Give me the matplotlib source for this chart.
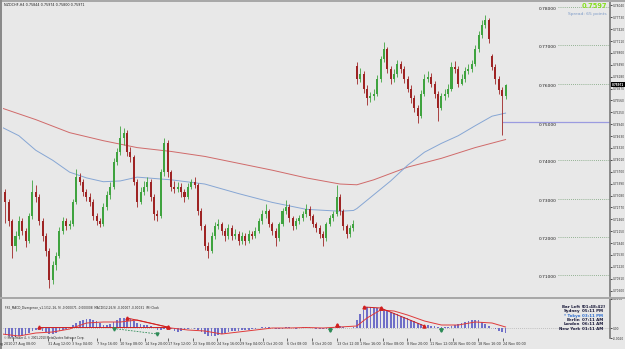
import matplotlib
matplotlib.use("Agg")
import matplotlib.pyplot as plt
import matplotlib.transforms as mtransforms
from matplotlib.patches import Rectangle
import numpy as np

# ---------------- data ----------------
opens = [0.7340, 0.7318, 0.7292, 0.7241, 0.7177, 0.7203, 0.7241, 0.7215, 0.7190, 0.7254,
         0.7318, 0.7305, 0.7241, 0.7203, 0.7164, 0.7087, 0.7126, 0.7151, 0.7215, 0.7241,
         0.7228, 0.7233, 0.7292, 0.7356, 0.7344, 0.7318, 0.7305, 0.7292, 0.7254, 0.7241,
         0.7233, 0.7279, 0.7310, 0.7331, 0.7395, 0.7421, 0.7459, 0.7472, 0.7421, 0.7408,
         0.7344, 0.7292, 0.7318, 0.7331, 0.7344, 0.7305, 0.7259, 0.7254, 0.7369, 0.7446,
         0.7369, 0.7331, 0.7326, 0.7331, 0.7318, 0.7305, 0.7331, 0.7344, 0.7336, 0.7267,
         0.7228, 0.7177, 0.7164, 0.7203, 0.7228, 0.7233, 0.7215, 0.7203, 0.7223, 0.7203,
         0.7208, 0.7190, 0.7203, 0.7190, 0.7208, 0.7203, 0.7215, 0.7241, 0.7259, 0.7267,
         0.7233, 0.7215, 0.7197, 0.7233, 0.7267, 0.7279, 0.7249, 0.7228, 0.7241, 0.7249,
         0.7259, 0.7274, 0.7254, 0.7233, 0.7223, 0.7208, 0.7197, 0.7233, 0.7249, 0.7259,
         0.7305, 0.7267, 0.7228, 0.7208, 0.7223, 0.7646, 0.7613, 0.7626, 0.7587, 0.7562,
         0.7567, 0.7574, 0.7613, 0.7664, 0.7690, 0.7638, 0.7613, 0.7626, 0.7651, 0.7638,
         0.7613, 0.7587, 0.7562, 0.7536, 0.7515, 0.7574, 0.7613, 0.7618, 0.7600, 0.7574,
         0.7536, 0.7567, 0.7574, 0.7587, 0.7644, 0.7638, 0.7600, 0.7613, 0.7633, 0.7638,
         0.7651, 0.7690, 0.7728, 0.7754, 0.7767, 0.7672, 0.7644, 0.7613, 0.7582, 0.7567]
closes = [0.7318, 0.7292, 0.7241, 0.7177, 0.7203, 0.7241, 0.7215, 0.7190, 0.7254, 0.7318,
          0.7305, 0.7241, 0.7203, 0.7164, 0.7087, 0.7126, 0.7151, 0.7215, 0.7241, 0.7228,
          0.7233, 0.7292, 0.7356, 0.7344, 0.7318, 0.7305, 0.7292, 0.7254, 0.7241, 0.7233,
          0.7279, 0.7310, 0.7331, 0.7395, 0.7421, 0.7459, 0.7472, 0.7421, 0.7408, 0.7344,
          0.7292, 0.7318, 0.7331, 0.7344, 0.7305, 0.7259, 0.7254, 0.7369, 0.7446, 0.7369,
          0.7331, 0.7326, 0.7331, 0.7318, 0.7305, 0.7331, 0.7344, 0.7336, 0.7267, 0.7228,
          0.7177, 0.7164, 0.7203, 0.7228, 0.7233, 0.7215, 0.7203, 0.7223, 0.7203, 0.7208,
          0.7190, 0.7203, 0.7190, 0.7208, 0.7203, 0.7215, 0.7241, 0.7259, 0.7267, 0.7233,
          0.7215, 0.7197, 0.7233, 0.7267, 0.7279, 0.7249, 0.7228, 0.7241, 0.7249, 0.7259,
          0.7274, 0.7254, 0.7233, 0.7223, 0.7208, 0.7197, 0.7233, 0.7249, 0.7259, 0.7305,
          0.7267, 0.7228, 0.7208, 0.7223, 0.7233, 0.7613, 0.7626, 0.7587, 0.7562, 0.7567,
          0.7574, 0.7613, 0.7664, 0.7690, 0.7638, 0.7613, 0.7626, 0.7651, 0.7638, 0.7613,
          0.7587, 0.7562, 0.7536, 0.7515, 0.7574, 0.7613, 0.7618, 0.7600, 0.7574, 0.7536,
          0.7567, 0.7574, 0.7587, 0.7644, 0.7638, 0.7600, 0.7613, 0.7633, 0.7638, 0.7651,
          0.7690, 0.7728, 0.7754, 0.7767, 0.7715, 0.7644, 0.7613, 0.7582, 0.7567, 0.7597]
highs = [0.7352, 0.7325, 0.7300, 0.7248, 0.7215, 0.7254, 0.7250, 0.7222, 0.7262, 0.7349,
         0.7335, 0.7312, 0.7250, 0.7210, 0.7170, 0.7138, 0.7160, 0.7225, 0.7252, 0.7250,
         0.7245, 0.7300, 0.7377, 0.7368, 0.7350, 0.7325, 0.7315, 0.7298, 0.7262, 0.7250,
         0.7288, 0.7320, 0.7342, 0.7405, 0.7433, 0.7490, 0.7485, 0.7478, 0.7435, 0.7415,
         0.7350, 0.7330, 0.7345, 0.7356, 0.7350, 0.7312, 0.7270, 0.7378, 0.7459, 0.7452,
         0.7375, 0.7345, 0.7342, 0.7340, 0.7325, 0.7340, 0.7352, 0.7356, 0.7340, 0.7275,
         0.7235, 0.7188, 0.7212, 0.7238, 0.7248, 0.7240, 0.7222, 0.7235, 0.7230, 0.7220,
         0.7215, 0.7212, 0.7210, 0.7218, 0.7215, 0.7225, 0.7250, 0.7270, 0.7285, 0.7272,
         0.7240, 0.7222, 0.7240, 0.7275, 0.7297, 0.7285, 0.7255, 0.7250, 0.7258, 0.7268,
         0.7285, 0.7280, 0.7260, 0.7240, 0.7230, 0.7215, 0.7240, 0.7258, 0.7268, 0.7336,
         0.7312, 0.7272, 0.7235, 0.7232, 0.7245, 0.7655, 0.7640, 0.7632, 0.7595, 0.7578,
         0.7585, 0.7622, 0.7672, 0.7708, 0.7695, 0.7645, 0.7638, 0.7662, 0.7660, 0.7645,
         0.7620, 0.7595, 0.7570, 0.7545, 0.7582, 0.7625, 0.7632, 0.7628, 0.7608, 0.7580,
         0.7575, 0.7585, 0.7598, 0.7655, 0.7660, 0.7645, 0.7625, 0.7642, 0.7650, 0.7662,
         0.7700, 0.7738, 0.7765, 0.7779, 0.7772, 0.7678, 0.7650, 0.7620, 0.7590, 0.7600]
lows = [0.7305, 0.7236, 0.7228, 0.7144, 0.7164, 0.7195, 0.7205, 0.7175, 0.7185, 0.7248,
        0.7290, 0.7230, 0.7190, 0.7150, 0.7067, 0.7078, 0.7115, 0.7145, 0.7208, 0.7218,
        0.7220, 0.7228, 0.7285, 0.7335, 0.7308, 0.7295, 0.7280, 0.7245, 0.7230, 0.7225,
        0.7228, 0.7270, 0.7300, 0.7325, 0.7388, 0.7415, 0.7440, 0.7410, 0.7395, 0.7335,
        0.7279, 0.7285, 0.7310, 0.7320, 0.7295, 0.7245, 0.7241, 0.7250, 0.7360, 0.7356,
        0.7320, 0.7315, 0.7318, 0.7305, 0.7292, 0.7298, 0.7325, 0.7328, 0.7258, 0.7218,
        0.7165, 0.7146, 0.7158, 0.7195, 0.7220, 0.7205, 0.7190, 0.7195, 0.7192, 0.7195,
        0.7178, 0.7182, 0.7180, 0.7185, 0.7195, 0.7198, 0.7210, 0.7235, 0.7250, 0.7225,
        0.7205, 0.7177, 0.7190, 0.7228, 0.7260, 0.7240, 0.7218, 0.7220, 0.7235, 0.7242,
        0.7252, 0.7245, 0.7225, 0.7212, 0.7198, 0.7177, 0.7190, 0.7228, 0.7242, 0.7255,
        0.7258, 0.7218, 0.7198, 0.7200, 0.7215, 0.7600, 0.7605, 0.7575, 0.7544, 0.7552,
        0.7558, 0.7568, 0.7605, 0.7655, 0.7628, 0.7600, 0.7605, 0.7618, 0.7628, 0.7602,
        0.7578, 0.7550, 0.7525, 0.7497, 0.7510, 0.7568, 0.7605, 0.7590, 0.7562, 0.7503,
        0.7530, 0.7558, 0.7565, 0.7580, 0.7628, 0.7590, 0.7595, 0.7605, 0.7625, 0.7630,
        0.7645, 0.7682, 0.7720, 0.7745, 0.7705, 0.7635, 0.7600, 0.7572, 0.7467, 0.7560]

ma_red_bars = [0, 10, 20, 30, 40, 50, 60, 70, 80, 90, 100, 105, 110, 120, 130, 140, 149]
ma_red = [0.7536, 0.7506, 0.7472, 0.7451, 0.7433, 0.7423, 0.7410, 0.7392, 0.7374,
          0.7354, 0.7338, 0.7336, 0.7349, 0.7382, 0.7405, 0.7433, 0.7454]
ma_blue_bars = [0, 5, 10, 15, 20, 25, 30, 35, 40, 50, 60, 70, 80, 90, 100, 104, 105,
                110, 115, 120, 125, 130, 135, 140, 145, 149]
ma_blue = [0.7486, 0.7464, 0.7426, 0.7400, 0.7369, 0.7354, 0.7344, 0.7346, 0.7356,
           0.7349, 0.7338, 0.7313, 0.7290, 0.7272, 0.7267, 0.7269, 0.7274, 0.7310,
           0.7346, 0.7387, 0.7421, 0.7444, 0.7464, 0.7490, 0.7515, 0.7523]

level_prices = [0.78, 0.77, 0.76, 0.74, 0.73, 0.72, 0.71]
level_labels = ["0.78000", "0.77000", "0.76000", "0.74000", "0.73000", "0.72000", "0.71000"]
hline_price = 0.75
hline_label = "0.75000"
bid_price = 0.7597
bid_label = "0.75971"

price_ticks = [0.78040, 0.77730, 0.77420, 0.77110, 0.76800, 0.76490, 0.76180, 0.75870,
               0.75560, 0.75250, 0.74940, 0.74630, 0.74320, 0.74010, 0.73700, 0.73390,
               0.73080, 0.72770, 0.72460, 0.72150, 0.71840, 0.71530, 0.71220, 0.70910,
               0.70600]

# MACD histogram (x 1e-4)
macd_hist = [-12, -14, -16, -18, -18, -16, -16, -14, -10, -6,
             -4, -4, -6, -8, -12, -12, -10, -6, -4, -2,
             2, 6, 10, 14, 16, 18, 18, 16, 14, 10,
             6, 6, 8, 12, 16, 20, 20, 20, 18, 14,
             10, 8, 6, 6, 4, 1, -4, -4, -1, 2,
             -2, -6, -8, -6, -4, -2, 1, -1, -4, -8,
             -12, -16, -16, -16, -14, -12, -10, -8, -6, -6,
             -6, -4, -4, -4, -2, -2, 1, 2, 2, 2,
             1, -2, -2, -1, 2, 2, 1, -1, 1, 2,
             2, 2, 1, -1, -2, -2, -2, -1, 2, 4,
             4, 2, 1, 1, 2, 16, 28, 36, 42, 42,
             40, 40, 40, 38, 36, 32, 30, 28, 24, 22,
             20, 16, 14, 10, 8, 6, 6, 4, 4, 2,
             2, 2, 2, 4, 6, 8, 10, 12, 14, 16,
             16, 16, 12, 8, 4, 1, -2, -6, -8, -10]
signal_bars = [0, 5, 10, 15, 20, 25, 30, 35, 40, 45, 50, 55, 60, 65, 70, 75, 80, 85, 90,
               95, 100, 105, 108, 112, 116, 120, 125, 130, 135, 140, 145, 149]
signal_vals = [-12, -16, -10, -8, -2, 10, 12, 12, 16, 8, 0, -4, -6, -12, -8, -4, 0, 0, 1,
               0, 2, 4, 20, 36, 34, 26, 14, 6, 6, 12, 10, 2]
red_divergences = [((11, 2), (49, 2)), ((37, 20), (49, 2)),
                   ((107, 42), (112, 40)), ((112, 40), (125, 4)), ((99, 6), (99, 6))]
green_divergences = [((33, -1), (46, -12)), ((97, -4), (97, -4)), ((130, -4), (130, -4))]

x_tick_bars = [3.3, 13.6, 20.7, 28.1, 34.9, 42.3, 49.1, 56.5, 63.6, 70.4, 77.2, 84.3,
               91.7, 99.1, 105.9, 112.7, 119.8, 126.6, 133.4, 140.8, 148.2]
x_tick_labels = ["27 Aug 08:00", "31 Aug 12:00", "3 Sep 04:00", "7 Sep 16:00",
                 "10 Sep 08:00", "14 Sep 20:00", "17 Sep 12:00", "22 Sep 00:00",
                 "24 Sep 16:00", "29 Sep 04:00", "1 Oct 20:00", "6 Oct 08:00",
                 "8 Oct 20:00", "13 Oct 12:00", "1 Nov 16:00", "4 Nov 08:00",
                 "8 Nov 20:00", "11 Nov 12:00", "16 Nov 00:00", "18 Nov 16:00",
                 "24 Nov 00:00"]
first_label = "24 Aug 2010"

clock_names = ["Bar Left", "Sydney", "* Tokyo", "Berlin", "London", "New York"]
clock_values = ["[01:48:42]", "05:11 PM", "03:11 PM", "07:11 AM", "06:11 AM", "01:11 AM"]

# ---------------- figure ----------------
W, H = 625, 349
BG = "#E8E8E8"
BULL = "#3FA33F"
BEAR = "#9E2424"
plt.rcParams["font.family"] = ["DejaVu Sans"]

fig = plt.figure(figsize=(W / 100, H / 100), dpi=100, facecolor=BG)


def fx(px):
    return px / W


def fy(py):
    return 1 - py / H


ax = fig.add_axes([fx(3), fy(296), fx(610) - fx(3), fy(2) - fy(296)])
sub = fig.add_axes([fx(3), fy(338), fx(610) - fx(3), fy(299) - fy(338)])
for a in (ax, sub):
    a.set_facecolor(BG)
    a.set_xlim(0.3, 179.9)
    for s in ("top", "left", "bottom"):
        a.spines[s].set_visible(False)
    a.spines["right"].set_color("#7A7A7A")
    a.spines["right"].set_linewidth(1.2)
    a.yaxis.tick_right()

ax.set_ylim(0.70459, 0.78128)
ax.set_xticks([])

o = np.array(opens); c = np.array(closes); h = np.array(highs); l = np.array(lows)
xb = np.arange(len(c))
cols = np.where(c >= o, BULL, BEAR)
ax.vlines(xb, l, h, colors=cols, lw=0.6, zorder=3)
body_lo = np.minimum(o, c)
body_h = np.maximum(np.abs(c - o), 0.00005)
ax.bar(xb, body_h, bottom=body_lo, width=0.6, color=cols, lw=0, zorder=4)

ax.plot(ma_red_bars, ma_red, color="#D06A6A", lw=0.7, zorder=2)
ax.plot(ma_blue_bars, ma_blue, color="#86A6D4", lw=0.7, zorder=2)

trans = mtransforms.blended_transform_factory(ax.transAxes, ax.transData)
x_line0 = (558 - 3) / 607
x_lab = (539 - 3) / 607
for p, lab in zip(level_prices, level_labels):
    ax.plot([x_line0, 1], [p, p], transform=trans, ls=(0, (1, 1.5)), color="#76A076",
            lw=0.6, zorder=1)
    ax.text(x_lab, p, lab, transform=trans, va="top", ha="left", fontsize=3.2,
            color="#202020")
ax.plot([(503 - 3) / 607, 1], [hline_price, hline_price], transform=trans,
        color="#9B9BE0", lw=0.9, zorder=1)
ax.text(x_lab, hline_price - 0.0004, hline_label, transform=trans, va="top", ha="left",
        fontsize=3.2, color="#202020")

ax.set_yticks(price_ticks)
ax.set_yticklabels([f"{v:.5f}" for v in price_ticks])
ax.tick_params(axis="y", length=1.5, width=0.6, pad=0.3, labelsize=2.1, colors="#303030")
ax.text(1.0035, bid_price, bid_label, transform=trans,
        fontsize=2.0, color="white", va="center", ha="left", fontweight="bold",
        bbox=dict(fc="black", ec="none", pad=0.5), clip_on=False, zorder=10)

# ---- MACD subwindow ----
mh = np.array(macd_hist) * 1e-4
sub.set_ylim(-0.0020, 0.0058)
sub.axhline(0, color="#9A9A9A", ls=(0, (1, 2)), lw=0.5, zorder=0)
sub.bar(xb, mh, width=0.5, color="#6F6FC8", lw=0, zorder=2)
sub.plot(signal_bars, np.array(signal_vals) * 1e-4, color="#E03A3A", lw=0.7, zorder=3)
for (b1, v1), (b2, v2) in red_divergences:
    sub.plot([b1, b2], [v1 * 1e-4, v2 * 1e-4], color="#D02020", lw=0.7, zorder=4,
             marker="^", ms=2.2, mfc="#D02020", mec="#D02020")
for (b1, v1), (b2, v2) in green_divergences:
    sub.plot([b1, b2], [v1 * 1e-4, v2 * 1e-4], color="#2E8B57", lw=0.6, ls=(0, (2, 1.5)),
             zorder=4, marker="v", ms=2.2, mfc="#2E8B57", mec="#2E8B57")
sub.set_yticks([0.0058, 0.0, -0.0020])
sub.set_yticklabels(["0.0058", "0.00", "-0.0020"])
sub.tick_params(axis="y", length=1.5, width=0.6, pad=0.3, labelsize=2.1, colors="#303030")
sub.set_xticks(x_tick_bars)
sub.set_xticklabels(x_tick_labels)
sub.tick_params(axis="x", length=2, width=0.5, pad=1.2, labelsize=2.45, colors="#303030")
for t in sub.get_xticklabels():
    t.set_ha("left")
fig.text(fx(-9), fy(344), first_label, fontsize=2.45, color="#303030", va="center")

# ---- texts ----
fig.text(fx(4), fy(4.5), "NZDCHF,H4 0.75844 0.75974 0.75800 0.75971", fontsize=2.4,
         color="#202020", va="center")
fig.text(fx(5), fy(307.5),
         "FX5_MACD_Divergence_v1.1(12, 26, 9) -0.000071 -0.000008  MACD(12,26,9) "
         "-0.00007 -0.00031  (M) Clock", fontsize=2.1, color="#202020", va="center")
fig.text(fx(4), fy(338), "\u00a9 MetaTrader 4, \u00a9 2001-2010 MetaQuotes Software Corp.",
         fontsize=2.0, color="#202020", va="center")
fig.text(fx(607), fy(6.5), "0.7597", fontsize=4.8, color="#86E01E", fontweight="bold",
         ha="right", va="center")
fig.text(fx(607), fy(14.5), "Spread: 65 points", fontsize=3.2, color="#7E9CC8",
         ha="right", va="center")
for k, (nm, val) in enumerate(zip(clock_names, clock_values)):
    yy = 307 + k * 4.3
    col = "#2F6FD0" if nm.startswith("*") else "#1A1A3A"
    fig.text(fx(580), fy(yy), nm, fontsize=2.9, color=col, ha="right", va="center",
             fontweight="bold")
    fig.text(fx(582), fy(yy), val, fontsize=2.9, color=col, ha="left", va="center",
             fontweight="bold")

# ---- frame decorations ----
fig.add_artist(Rectangle((0, fy(2)), 1, 2 / H, transform=fig.transFigure,
                         color="#A8A8A8", lw=0))
fig.add_artist(Rectangle((0, 0), 2 / W, 1, transform=fig.transFigure,
                         color="#8A8A8A", lw=0))
fig.add_artist(Rectangle((0, fy(298.5)), 1, 2 / H, transform=fig.transFigure,
                         color="#A8A8A8", lw=0))

fig.savefig("out.png", dpi=100, facecolor=BG)
